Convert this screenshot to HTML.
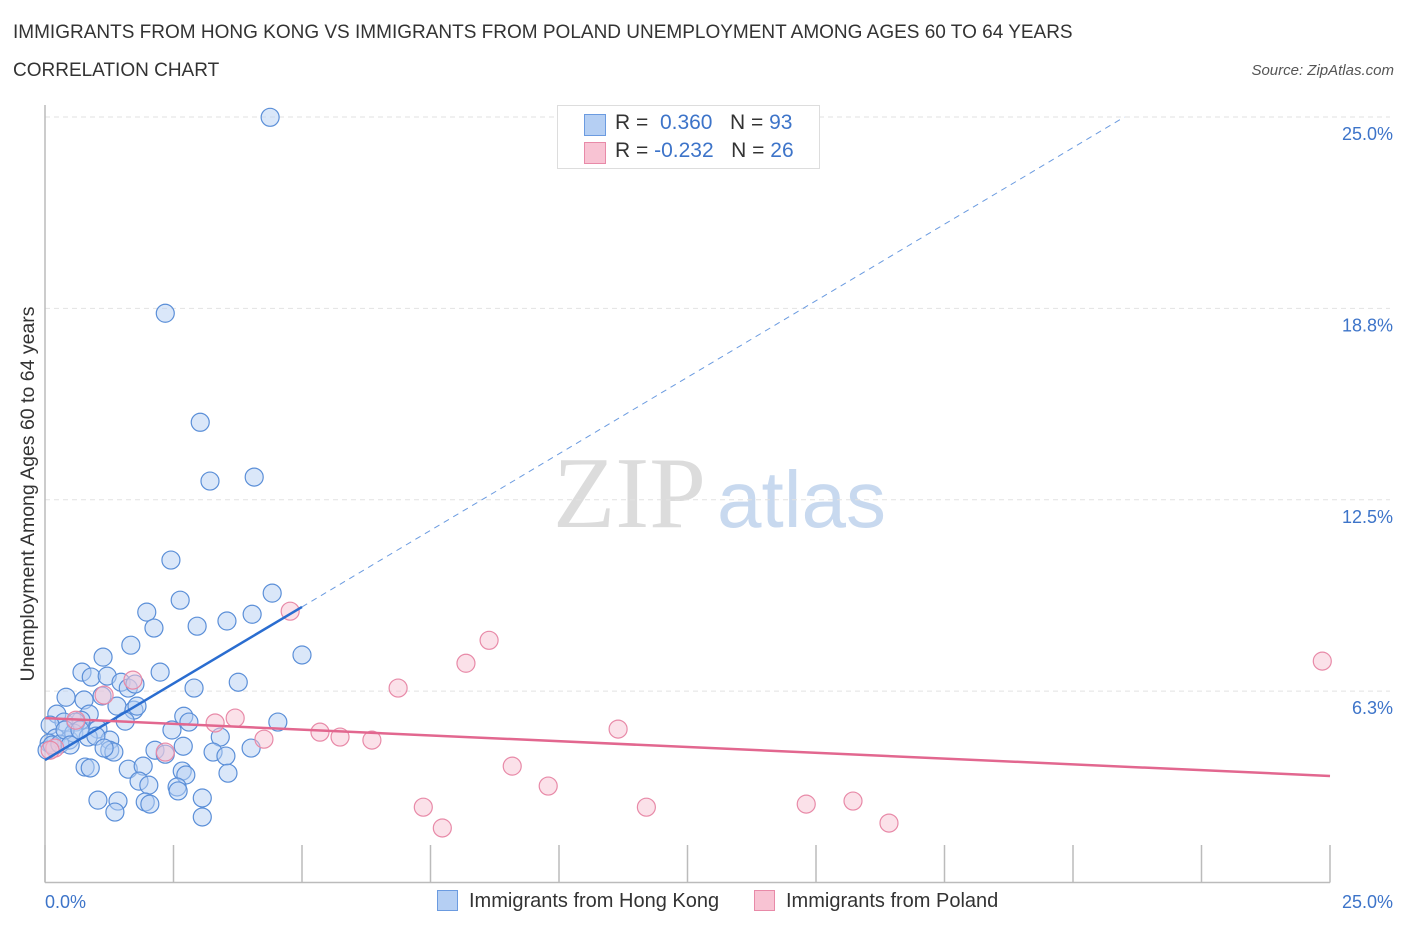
<!DOCTYPE html>
<html><head><meta charset="utf-8">
<style>
body{margin:0;background:#fff;font-family:"Liberation Sans",sans-serif;}
#wrap{position:relative;width:1406px;height:930px;overflow:hidden;}
.t{position:absolute;white-space:nowrap;}
</style></head><body>
<div id="wrap">
<div class="t" style="left:13px;top:22px;font-size:19px;color:#333;">IMMIGRANTS FROM HONG KONG VS IMMIGRANTS FROM POLAND UNEMPLOYMENT AMONG AGES 60 TO 64 YEARS</div>
<div class="t" style="left:13px;top:60px;font-size:19px;color:#333;">CORRELATION CHART</div>
<div class="t" style="right:12px;top:62px;font-size:15px;color:#555;font-style:italic;">Source: ZipAtlas.com</div>
<svg id="chart" width="1406" height="930" style="position:absolute;left:0;top:0"></svg>
</div>
<script>
const hkX=[4.38,2.34,3.02,3.21,4.07,2.45,2.63,1.98,2.12,2.96,3.54,4.03,4.42,5.00,1.67,1.13,0.72,0.90,1.21,1.48,2.24,1.62,1.75,2.90,3.76,0.41,0.76,1.11,1.40,1.73,1.79,0.23,0.86,0.37,0.70,0.60,0.10,1.03,1.26,1.56,2.47,2.70,2.80,3.41,4.53,0.21,0.08,0.47,0.56,0.84,0.99,1.26,1.34,1.15,2.14,2.34,2.69,3.27,3.52,4.01,0.78,0.88,1.62,1.91,2.67,2.74,3.56,1.83,2.02,2.57,1.03,1.42,1.95,2.04,3.06,2.59,1.36,3.06,0.04,0.14,0.29,0.39,0.49,0.68];
const hkY=[24.99,18.59,15.03,13.11,13.24,10.53,9.22,8.83,8.31,8.37,8.54,8.76,9.45,7.43,7.75,7.36,6.87,6.71,6.74,6.54,6.87,6.35,6.48,6.35,6.54,6.05,5.96,6.09,5.76,5.63,5.76,5.50,5.50,5.24,5.30,5.24,5.14,5.01,4.65,5.27,4.98,5.43,5.24,4.75,5.24,4.72,4.55,4.65,4.88,4.75,4.78,4.32,4.26,4.39,4.32,4.19,4.45,4.26,4.13,4.39,3.77,3.74,3.70,3.80,3.64,3.51,3.57,3.31,3.18,3.12,2.69,2.66,2.63,2.56,2.76,2.99,2.30,2.14,4.32,4.49,4.52,4.98,4.49,4.98];
const plX=[4.77,8.64,8.19,6.87,24.85,11.15,3.70,3.31,5.35,5.74,6.36,4.26,9.09,9.79,7.36,7.73,11.70,14.81,15.72,16.42,1.71,1.15,0.60,2.34,0.19,0.10];
const plY=[8.86,7.91,7.16,6.35,7.23,5.01,5.37,5.21,4.91,4.75,4.65,4.68,3.80,3.15,2.46,1.78,2.46,2.56,2.66,1.94,6.61,6.12,5.30,4.26,4.39,4.32];
const trendHK=[4.0,1.0];   // intercept, slope
const trendPL=[5.37,-0.0756];
const yTicks=[6.3,12.5,18.8,25.0];
const yTickVals=[6.25,12.5,18.75,25];

const X0=45,X1=1330,Y0=882.5,Y1=117;
function sx(v){return X0+(v/25)*(X1-X0);}
function sy(v){return Y0-(v/25)*(Y0-Y1);}
const svg=document.getElementById('chart');
const NS='http://www.w3.org/2000/svg';
function mk(tag,attrs,parent){const e=document.createElementNS(NS,tag);for(const k in attrs)e.setAttribute(k,attrs[k]);(parent||svg).appendChild(e);return e;}

let w1=mk('text',{x:553,y:527,'font-size':102,'font-family':'Liberation Serif, serif',fill:'#dcdcdc'});w1.textContent='ZIP';


let w2=mk('text',{x:717,y:527,'font-size':80,'font-family':'Liberation Sans, sans-serif',fill:'#c8d9ef'});w2.textContent='atlas';



yTickVals.forEach((v,i)=>{
  const g=mk('line',{x1:X0,x2:X1+60,y1:sy(v),y2:sy(v),stroke:'#e2e2e2','stroke-dasharray':'5,4'});
  
  
  const t=mk('text',{x:1393,y:sy(v)+23,'text-anchor':'end','font-size':18,fill:'#3d74c9'});t.textContent=yTicks[i].toFixed(1)+'%';
  
  
});
let ax=mk('line',{x1:X0,x2:X0,y1:105,y2:Y0,stroke:'#bbb','stroke-width':1.5});


let bx=mk('line',{x1:X0,x2:X1,y1:Y0,y2:Y0,stroke:'#bbb','stroke-width':1.5});


for(let i=0;i<=10;i++){
  const x=sx(i*2.5);
  const tk=mk('line',{x1:x,x2:x,y1:845,y2:Y0,stroke:'#bbb','stroke-width':1.5});
  
  
}
let xl0=mk('text',{x:45,y:908,'font-size':18,fill:'#3d74c9'});xl0.textContent='0.0%';


let xl1=mk('text',{x:1393,y:908,'font-size':18,fill:'#3d74c9','text-anchor':'end'});xl1.textContent='25.0%';


let yt=mk('text',{x:34,y:494,'font-size':19.5,fill:'#333','text-anchor':'middle',transform:'rotate(-90 34 494)'});yt.textContent='Unemployment Among Ages 60 to 64 years';



function dots(xs,ys,fill,stroke,name){
  xs.forEach((v,i)=>{
    const c=mk('circle',{cx:sx(v),cy:sy(ys[i]),r:9,fill:fill,'fill-opacity':0.5,stroke:stroke,'stroke-width':1.2});
    
    
  });
}
dots(hkX,hkY,'#b5cff3','#5b8fd8','point-hong-kong');
dots(plX,plY,'#f8c3d3','#e88aa8','point-poland');

let tb=mk('line',{x1:sx(0),y1:sy(trendHK[0]),x2:sx(5),y2:sy(trendHK[0]+5*trendHK[1]),stroke:'#2a6dd0','stroke-width':2.5});


const xe=(25-trendHK[0])/trendHK[1];
let tbd=mk('line',{x1:sx(5),y1:sy(trendHK[0]+5*trendHK[1]),x2:sx(xe),y2:sy(25),stroke:'#6b9be0','stroke-width':1,'stroke-dasharray':'6,5'});


let tp=mk('line',{x1:sx(0),y1:sy(trendPL[0]),x2:sx(25),y2:sy(trendPL[0]+25*trendPL[1]),stroke:'#e2678f','stroke-width':2.5});


</script>
<div class="t" style="left:557px;top:105px;width:261px;height:62px;border:1px solid #ddd;background:#fff;font-size:21px;">
 <div style="position:absolute;left:26px;top:8px;width:20px;height:20px;background:#b5cff3;border:1px solid #6b9be0;"></div>
 <div style="position:absolute;left:57px;top:5px;color:#333;">R = &nbsp;<span style="color:#3d74c9">0.360</span>&nbsp;&nbsp;&nbsp;N = <span style="color:#3d74c9">93</span></div>
 <div style="position:absolute;left:26px;top:36px;width:20px;height:20px;background:#f8c3d3;border:1px solid #e88aa8;"></div>
 <div style="position:absolute;left:57px;top:33px;color:#333;">R = <span style="color:#3d74c9">-0.232</span>&nbsp;&nbsp;&nbsp;N = <span style="color:#3d74c9">26</span></div>
</div>
<div class="t" style="left:437px;top:890px;font-size:20px;color:#333;"><span style="display:inline-block;width:21px;height:21px;background:#b5cff3;border:1px solid #6b9be0;vertical-align:-4px;margin-right:11px;box-sizing:border-box;"></span>Immigrants from Hong Kong</div>
<div class="t" style="left:754px;top:890px;font-size:20px;color:#333;"><span style="display:inline-block;width:21px;height:21px;background:#f8c3d3;border:1px solid #e88aa8;vertical-align:-4px;margin-right:11px;box-sizing:border-box;"></span>Immigrants from Poland</div>
</body></html>
